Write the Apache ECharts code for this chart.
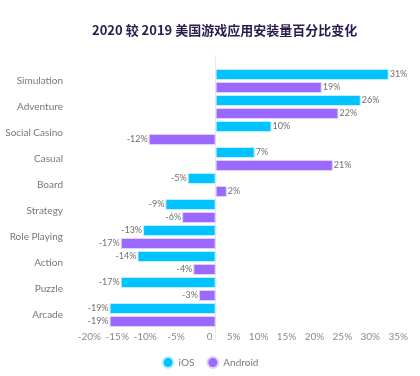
<!DOCTYPE html>
<html>
<head>
<meta charset="utf-8">
<script src="https://cdn.jsdelivr.net/npm/echarts@6/dist/echarts.min.js"></script>
<style>
  html, body { margin: 0; padding: 0; background: #fff; }
  #fig_installs { width: 420px; height: 376px; }
</style>
</head>
<body>
<div id="fig_installs"></div>
<script>
var categories = ['Simulation', 'Adventure', 'Social Casino', 'Casual', 'Board',
    'Strategy', 'Role Playing', 'Action', 'Puzzle', 'Arcade'];
var ios_values = [31, 26, 10, 7, -5, -9, -13, -14, -17, -19];
var android_values = [19, 22, -12, 21, 2, -6, -17, -4, -3, -19];
var x_ticks = [-20, 35, 5]; // min, max, interval

var FONT = 'Lato, "Noto Sans", sans-serif';

// put label on the outer end of each bar
function make_data(values) {
    return values.map(function(v) {
        return {
            value: v,
            label: { position: v < 0 ? 'left' : 'right' }
        };
    });
}

function make_series(name, values, color, border) {
    return {
        name: name,
        type: 'bar',
        data: make_data(values),
        barWidth: 11,
        barGap: '18%',
        itemStyle: {
            color: color,
            borderColor: border,
            borderWidth: 1
        },
        label: {
            show: true,
            formatter: '{c}%',
            color: '#707070',
            fontSize: 9,
            fontFamily: FONT,
            distance: 1
        }
    };
}

var option = {
    animation: false,
    title: {
        text: '2020 较 2019 美国游戏应用安装量百分比变化',
        left: 87,
        top: 19,
        textStyle: {
            color: '#2b1b4f',
            fontSize: 13,
            fontWeight: 'bold',
            fontFamily: '"Noto Sans CJK SC", "Noto Sans", sans-serif'
        }
    },
    legend: {
        data: ['iOS', 'Android'],
        bottom: 2,
        left: 'center',
        icon: 'circle',
        itemWidth: 11,
        itemHeight: 11,
        itemGap: 12,
        textStyle: { color: '#777', fontSize: 10, fontFamily: FONT }
    },
    grid: {
        top: 68,
        bottom: 48,
        left: 104,
        right: 9,
        containLabel: false
    },
    xAxis: {
        type: 'value',
        min: x_ticks[0],
        max: x_ticks[1],
        interval: x_ticks[2],
        axisLine: { show: false },
        axisTick: { show: false },
        splitLine: { show: false },
        axisLabel: {
            formatter: function(v) { return v === 0 ? '0' : v + '%'; },
            align: 'right',
            margin: 4,
            padding: [0, 3, 0, 0],
            color: '#8a8a8a',
            fontSize: 10,
            fontFamily: FONT
        }
    },
    yAxis: {
        type: 'category',
        data: categories,
        inverse: true,
        axisLine: { show: false },
        axisTick: { show: false },
        axisLabel: {
            margin: 41,
            color: '#777',
            fontSize: 10,
            fontFamily: FONT
        }
    },
    series: [
        make_series('iOS', ios_values, '#00c2ff', '#bfeeff'),
        make_series('Android', android_values, '#9b69ff', '#e0d2ff')
    ]
};

var chart = echarts.init(document.getElementById('fig_installs'));
chart.setOption(option);

// zero line, a little taller than the grid
var x0 = chart.convertToPixel({ xAxisIndex: 0 }, 0);
chart.setOption({
    graphic: [{
        type: 'line',
        z: 0,
        shape: { x1: x0, y1: 55, x2: x0, y2: 342 },
        style: { stroke: '#e6e6e6', lineWidth: 1 }
    }]
});
</script>
</body>
</html>
